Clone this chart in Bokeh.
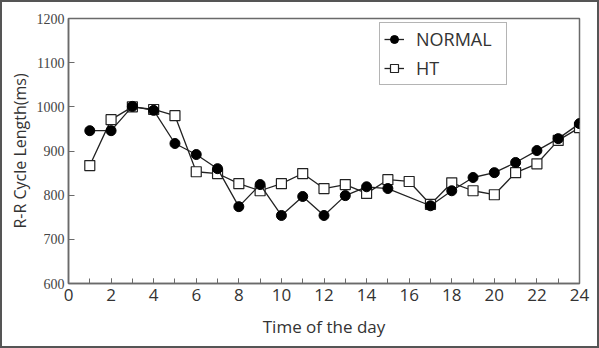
from bokeh.plotting import figure
from bokeh.models import Range1d, FixedTicker, Legend, LegendItem
from bokeh.embed import file_html
from bokeh.resources import INLINE

# Hourly mean R-R cycle length (ms)
hours_normal = [1, 2, 3, 4, 5, 6, 7, 8, 9, 10, 11, 12, 13, 14, 15, 17, 18, 19, 20, 21, 22, 23, 24]
rr_normal = [946, 946, 1001, 992, 917, 892, 860, 774, 824, 754, 797, 754, 799, 819, 815,
             776, 810, 840, 851, 874, 901, 928, 962]

hours_ht = [1, 2, 3, 4, 5, 6, 7, 8, 9, 10, 11, 12, 13, 14, 15, 16, 17, 18, 19, 20, 21, 22, 23, 24]
rr_ht = [867, 971, 1000, 994, 980, 853, 849, 826, 810, 826, 849, 815, 824, 804, 835, 831,
         779, 828, 810, 801, 851, 871, 924, 953]

x_ticks = list(range(0, 25, 2))
y_ticks = list(range(600, 1201, 100))

ink = "#222222"
frame_col = "#6a6a6a"

p = figure(width=599, height=348, output_backend="svg", toolbar_location=None,
           x_range=Range1d(0, 24), y_range=Range1d(600, 1200),
           min_border_left=66, min_border_right=22, min_border_top=16, min_border_bottom=67)
p.styles = {"border": "2px solid #555", "box-sizing": "border-box"}

p.grid.visible = False
p.outline_line_color = frame_col
p.outline_line_width = 1.5
p.background_fill_color = "white"
p.border_fill_color = "white"

# x axis: labels every 2 h, inward ticks every hour
xa = p.xaxis[0]
xa.ticker = FixedTicker(ticks=x_ticks, minor_ticks=list(range(0, 25)))
xa.major_tick_in = 5
xa.major_tick_out = 0
xa.minor_tick_in = 5
xa.minor_tick_out = 0
xa.axis_line_color = frame_col
xa.axis_line_width = 1.5
xa.major_tick_line_color = frame_col
xa.minor_tick_line_color = frame_col
xa.major_label_text_font = "Open Sans"
xa.major_label_text_font_size = "17px"
xa.major_label_text_color = "#333333"
xa.major_label_standoff = 5
xa.axis_label = "Time of the day"
xa.axis_label_text_font = "Open Sans"
xa.axis_label_text_font_size = "17px"
xa.axis_label_text_font_style = "normal"
xa.axis_label_text_color = "#333333"
xa.axis_label_standoff = 11

# y axis
ya = p.yaxis[0]
ya.ticker = FixedTicker(ticks=y_ticks, minor_ticks=[])
ya.major_tick_in = 6
ya.major_tick_out = 0
ya.axis_line_color = frame_col
ya.axis_line_width = 1.5
ya.major_tick_line_color = frame_col
ya.major_label_text_font = "Liberation Serif"
ya.major_label_text_font_size = "14px"
ya.major_label_text_color = "#444444"
ya.major_label_standoff = 4
ya.axis_label = "R-R Cycle Length(ms)"
ya.axis_label_text_font = "Open Sans"
ya.axis_label_text_font_size = "16px"
ya.axis_label_text_font_style = "normal"
ya.axis_label_text_color = "#333333"
ya.axis_label_standoff = 3

# series
ht_line = p.line(hours_ht, rr_ht, line_color=ink, line_width=1.3)
ht_pts = p.scatter(hours_ht, rr_ht, marker="square", size=10,
                   fill_color="white", line_color=ink, line_width=1.2)
n_line = p.line(hours_normal, rr_normal, line_color=ink, line_width=1.3)
n_pts = p.scatter(hours_normal, rr_normal, marker="circle", size=10,
                  fill_color="black", line_color="black")

legend = Legend(items=[
    LegendItem(label="NORMAL", renderers=[n_line, n_pts]),
    LegendItem(label="HT", renderers=[ht_line, ht_pts]),
], location=(311, 198))
legend.label_text_font = "Open Sans"
legend.label_text_font_size = "18px"
legend.label_text_color = "#333333"
legend.border_line_color = frame_col
legend.border_line_width = 1.5
legend.padding = 4
legend.spacing = 5
legend.margin = 0
legend.glyph_height = 20
legend.glyph_width = 20
legend.label_height = 20
legend.label_width = 86
legend.label_standoff = 12
p.add_layout(legend, "center")

open("out.html", "w").write(file_html(p, INLINE))
